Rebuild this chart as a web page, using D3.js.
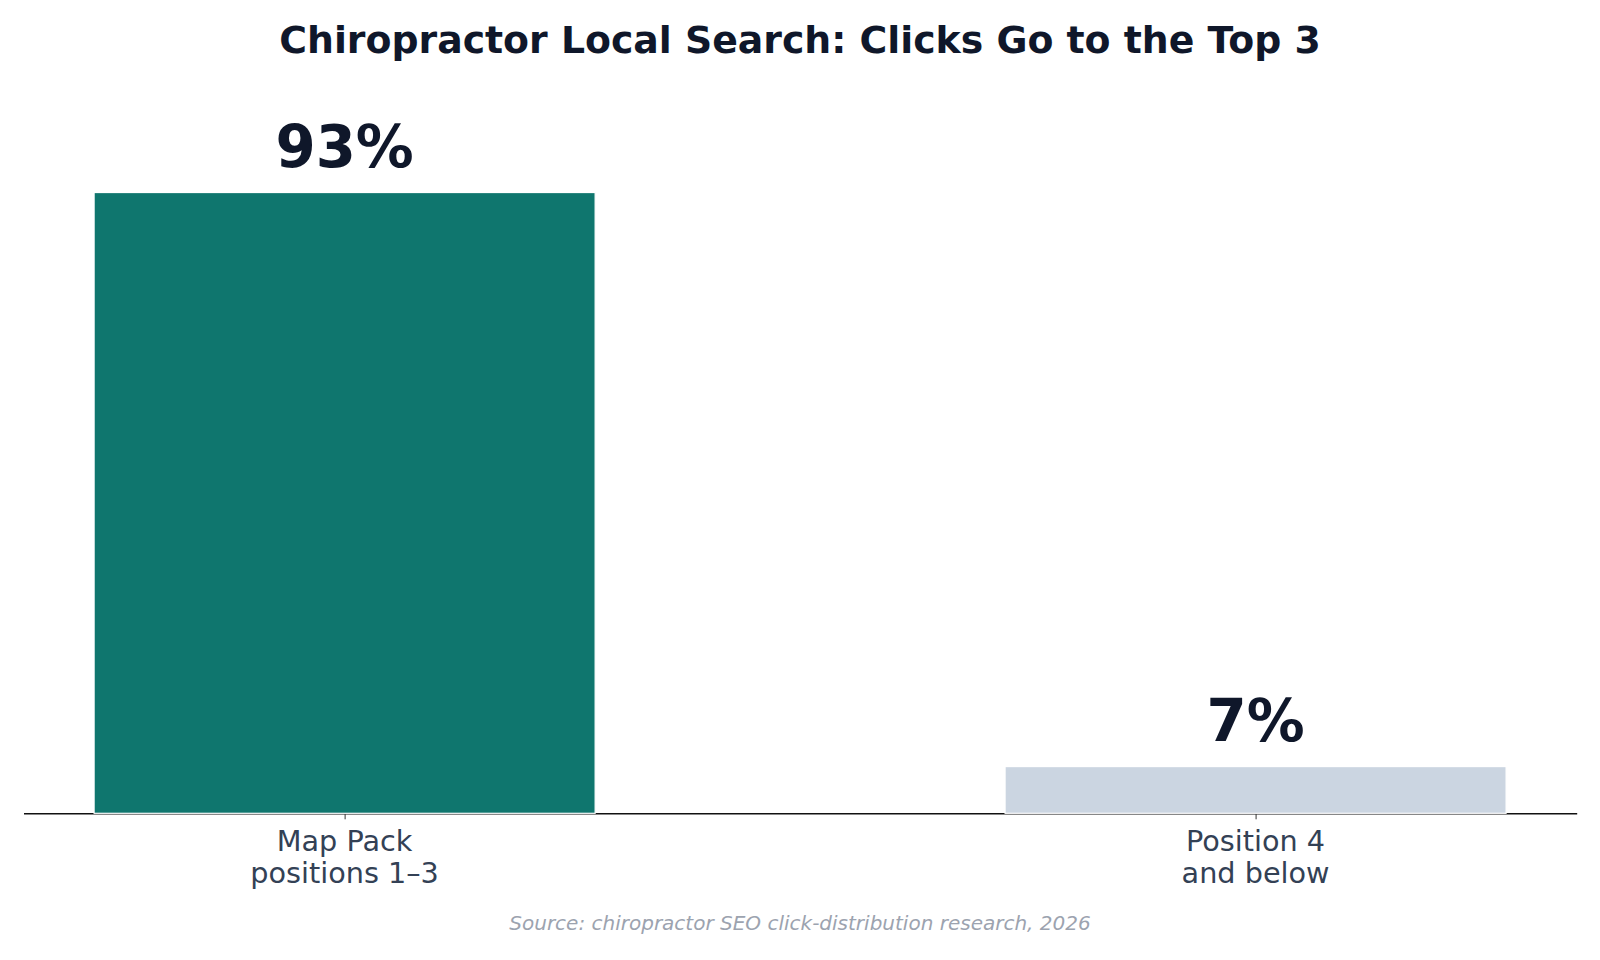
<!DOCTYPE html>
<html>
<head>
<meta charset="utf-8">
<script src="https://cdn.jsdelivr.net/npm/d3@7"></script>
<style>
  html, body { margin: 0; padding: 0; background: #ffffff; }
  svg { display: block; font-family: "DejaVu Sans", sans-serif; }
</style>
</head>
<body>
<svg id="chart" width="1600" height="960"></svg>
<script>
// chart data
const categories = ["Map Pack\npositions 1–3", "Position 4\nand below"];
const shares = [93, 7];
const barColors = ["#0f766e", "#cbd5e1"];
const valueLabels = ["93%", "7%"];

const title = "Chiropractor Local Search: Clicks Go to the Top 3";
const source = "Source: chiropractor SEO click-distribution research, 2026";

const svg = d3.select("#chart");
const W = 1600;

// plot area (matplotlib-like margins on the x domain)
const plot = { left: 23.5, right: 1576.7, bottom: 813.3, top: 145.8 };
const barWidth = 0.55;

const x = d3.scaleLinear()
  .domain([-barWidth / 2 - 0.0775, categories.length - 1 + barWidth / 2 + 0.0775])
  .range([plot.left, plot.right]);

const y = d3.scaleLinear()
  .domain([0, 100])
  .range([plot.bottom, plot.top]);

// title
svg.append("text")
  .attr("x", W / 2)
  .attr("y", 53.3)
  .attr("text-anchor", "middle")
  .attr("fill", "#0f172a")
  .attr("font-size", 37.8)
  .attr("font-weight", "bold")
  .text(title);

// x axis
const xAxis = svg.append("g")
  .attr("transform", `translate(0,${plot.bottom})`)
  .call(d3.axisBottom(x)
    .tickValues(d3.range(categories.length))
    .tickSize(6)
    .tickSizeOuter(0)
    .tickFormat(() => ""));

xAxis.select(".domain")
  .attr("stroke", "#111111")
  .attr("stroke-width", 1.4);
xAxis.selectAll(".tick line")
  .attr("stroke", "#333333")
  .attr("stroke-width", 1);

// bars
svg.append("g")
  .selectAll("rect")
  .data(shares)
  .join("rect")
  .attr("x", (d, i) => x(i - barWidth / 2))
  .attr("width", (d, i) => x(i + barWidth / 2) - x(i - barWidth / 2))
  .attr("y", d => y(d))
  .attr("height", d => y(0) - y(d))
  .attr("fill", (d, i) => barColors[i])
  .attr("stroke", "#ffffff")
  .attr("stroke-width", 1.2);

// value labels
svg.append("g")
  .selectAll("text")
  .data(shares)
  .join("text")
  .attr("x", (d, i) => x(i))
  .attr("y", d => y(d) - 26)
  .attr("text-anchor", "middle")
  .attr("fill", "#0f172a")
  .attr("font-size", 57.8)
  .attr("font-weight", "bold")
  .text((d, i) => valueLabels[i]);

// category labels (two lines each)
const catLabels = svg.append("g")
  .selectAll("text")
  .data(categories)
  .join("text")
  .attr("x", (d, i) => x(i))
  .attr("y", 851)
  .attr("text-anchor", "middle")
  .attr("fill", "#334155")
  .attr("font-size", 28.7);

catLabels.each(function(d, i) {
  const lines = d.split("\n");
  d3.select(this).selectAll("tspan")
    .data(lines)
    .join("tspan")
    .attr("x", x(i))
    .attr("dy", (l, j) => j === 0 ? 0 : 32)
    .text(l => l);
});

// source note
svg.append("text")
  .attr("x", W / 2)
  .attr("y", 929.5)
  .attr("text-anchor", "middle")
  .attr("fill", "#9ca3af")
  .attr("font-size", 20)
  .attr("font-style", "italic")
  .text(source);
</script>
</body>
</html>
